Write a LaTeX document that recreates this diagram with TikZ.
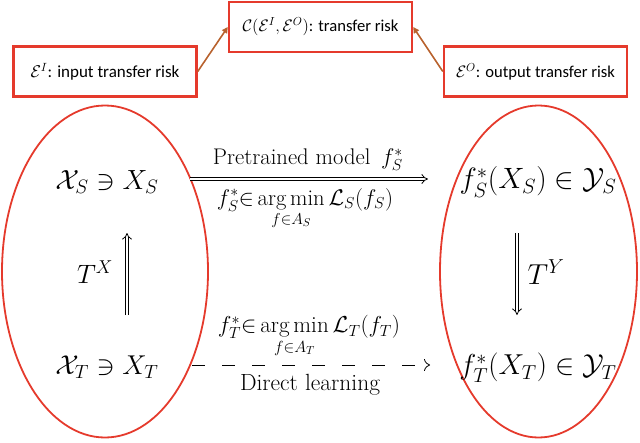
\RequirePackage{fix-cm}
\documentclass[tikz,border=0pt]{standalone}
\usepackage{amsmath,amssymb}
\usepackage{graphicx}
\usepackage{fontspec}
\newfontfamily\boxfont{Carlito}
\usetikzlibrary{arrows.meta}
\definecolor{ered}{HTML}{E53A2C}
\definecolor{abrown}{HTML}{B8622E}
\newcommand{\fitw}[2]{\resizebox{#1pt}{!}{#2}}
\tikzset{
  riskbox/.style={draw=ered, line width=2.4pt, minimum width=183pt, minimum height=50pt, inner sep=0pt, font=\boxfont\fontsize{16}{19}\selectfont},
  riskarrow/.style={draw=abrown, line width=1.6pt, -{Triangle[length=6pt,width=6pt]}},
  domainline/.style={draw=ered, line width=1.8pt},
  bigmath/.style={inner sep=0pt, font=\fontsize{25}{30}\selectfont},
  lbl/.style={inner sep=0pt, font=\fontsize{20}{24}\selectfont},
  dbl/.style={double, double distance=2.6pt, line width=0.8pt, -{Implies}},
}
\begin{document}
\begin{tikzpicture}[x=1pt,y=-1pt]
\useasboundingbox (0,0) rectangle (640,442);
% boxes
\node[riskbox] (top) at (320.5,27) {\fitw{156}{$\mathcal{C}(\mathcal{E}^{I},\mathcal{E}^{O})$: transfer risk}};
\node[riskbox] (left) at (105,71.5) {\fitw{149}{$\mathcal{E}^{I}$: input transfer risk}};
\node[riskbox] (right) at (535.5,71.5) {\fitw{159}{$\mathcal{E}^{O}$: output transfer risk}};
\draw[riskarrow] (left.east) -- (top.west);
\draw[riskarrow] (right.west) -- (top.east);
% ellipses
\draw[domainline] (105,271.5) ellipse [x radius=103, y radius=166];
\draw[domainline] (538.5,271.5) ellipse [x radius=98.5, y radius=166];
% math nodes
\node[bigmath] (XS) at (107,182) {\fitw{103}{$\mathcal{X}_S \ni X_S$}};
\node[bigmath] (XT) at (107,367) {\fitw{103}{$\mathcal{X}_T \ni X_T$}};
\node[bigmath] (YS) at (538,182) {\fitw{157}{$f^*_S(X_S) \in \mathcal{Y}_S$}};
\node[bigmath] (YT) at (538,368) {\fitw{157}{$f^*_T(X_T) \in \mathcal{Y}_T$}};
% coordinates for arrows
\coordinate (ta1) at (190,179);
\coordinate (ta2) at (428,179);
\coordinate (ba1) at (192,365);
\coordinate (ba2) at (430,365);
\coordinate (lx1) at (127,315);
\coordinate (lx2) at (127,233);
\coordinate (ry1) at (517,233);
\coordinate (ry2) at (517,315);
% top arrow
\draw[dbl] (ta1) -- (ta2);
\node[lbl] (pre) at (308,160) {\fitw{190}{Pretrained model\, $f^*_S$}};
\node[lbl, anchor=north] (amS) at (305,188) {\fitw{176}{$f^*_S{\in}\operatorname*{arg\,min}\limits_{f\in A_S}\mathcal{L}_S(f_S)$}};
% bottom arrow
\draw[line width=0.8pt, dash pattern=on 13pt off 17pt, -{To[length=6pt,width=12pt]}] (ba1) -- (ba2);
\node[lbl, anchor=south] (amT) at (309,358) {\fitw{182}{$f^*_T{\in}\operatorname*{arg\,min}\limits_{f\in A_T}\mathcal{L}_T(f_T)$}};
\node[lbl] (dl) at (310,385) {\fitw{140}{Direct learning}};
% vertical arrows
\draw[dbl] (lx1) -- (lx2);
\node[bigmath] (TX) at (95,272) {\fitw{36}{$T^X$}};
\draw[dbl] (ry1) -- (ry2);
\node[bigmath] (TY) at (546,272) {\fitw{37}{$T^Y$}};
\end{tikzpicture}
\end{document}
